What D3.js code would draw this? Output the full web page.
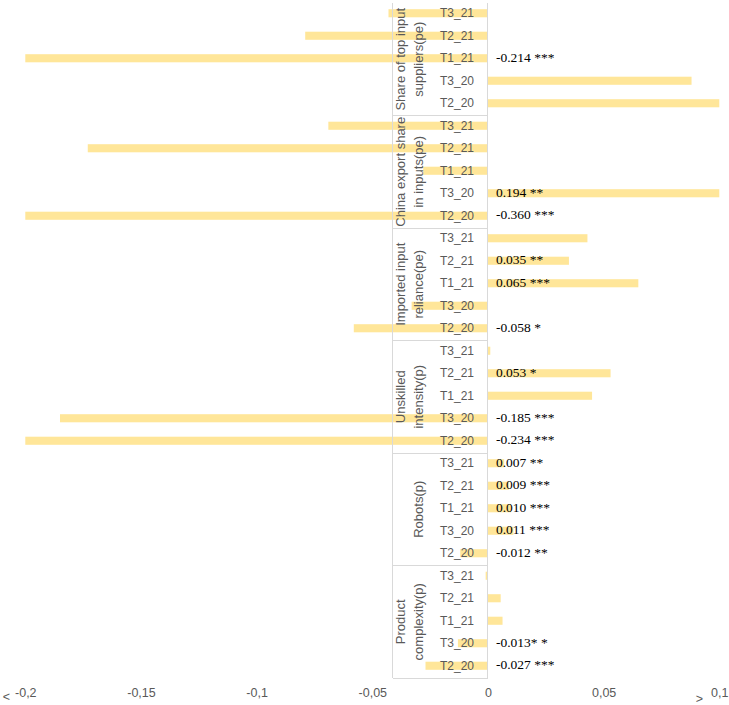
<!DOCTYPE html>
<html>
<head>
<meta charset="utf-8">
<script src="https://cdn.jsdelivr.net/npm/d3@7"></script>
<style>
html,body{margin:0;padding:0;background:#fff;}
svg{display:block;}
</style>
</head>
<body>
<svg id="chart" width="729" height="705"></svg>
<script>
// ---- data ----
const rows = ["T3_21", "T2_21", "T1_21", "T3_20", "T2_20"];
const groupNames = [
  ["Share of top input", "suppliers(pe)"],
  ["China export share", "in inputs(pe)"],
  ["Imported input", "reliance(pe)"],
  ["Unskilled", "intensity(p)"],
  ["Robots(p)"],
  ["Product", "complexity(p)"]
];
const shareTopValues    = [-0.043, -0.079, -0.214, 0.088, 0.105];
const chinaExportValues = [-0.069, -0.173, -0.028, 0.194, -0.360];
const importedValues    = [0.043, 0.035, 0.065, -0.033, -0.058];
const unskilledValues   = [0.001, 0.053, 0.045, -0.185, -0.234];
const robotsValues      = [0.007, 0.009, 0.010, 0.011, -0.012];
const complexityValues  = [-0.001, 0.0055, 0.0063, -0.013, -0.027];

const shareTopLabels    = ["", "", "-0.214 ***", "", ""];
const chinaExportLabels = ["", "", "", "0.194 **", "-0.360 ***"];
const importedLabels    = ["", "0.035 **", "0.065 ***", "", "-0.058 *"];
const unskilledLabels   = ["", "0.053 *", "", "-0.185 ***", "-0.234 ***"];
const robotsLabels      = ["0.007 **", "0.009 ***", "0.010 ***", "0.011 ***", "-0.012 **"];
const complexityLabels  = ["", "", "", "-0.013* *", "-0.027 ***"];

const tickValues = [-0.2, -0.15, -0.1, -0.05, 0, 0.05, 0.1];
const tickLabels = ["-0,2", "-0,15", "-0,1", "-0,05", "0", "0,05", "0,1"];

const allValues = [shareTopValues, chinaExportValues, importedValues, unskilledValues, robotsValues, complexityValues];
const allLabels = [shareTopLabels, chinaExportLabels, importedLabels, unskilledLabels, robotsLabels, complexityLabels];

// ---- build table ----
const data = [];
groupNames.forEach((g, gi) => {
  rows.forEach((r, ri) => {
    data.push({group: gi, row: r, key: gi + "|" + r, value: allValues[gi][ri], label: allLabels[gi][ri]});
  });
});

// ---- layout ----
const sansFont = "'Liberation Sans', Arial, sans-serif";
const svg = d3.select("#chart");
const yTop = 3, yBottom = 678;
const leftLine = 392.7;

const x = d3.scaleLinear().domain([-0.2, 0.1]).range([25.3, 719.3]).clamp(true);
const yRow = d3.scaleBand().domain(data.map(d => d.key)).range([yTop, yBottom]).paddingInner(0.64).paddingOuter(0.32);
const yStep = yRow.step();
const groupH = yStep * rows.length;
const x0 = x(0);

// bars
svg.append("g").selectAll("rect").data(data).join("rect")
  .attr("x", d => Math.min(x(d.value), x0))
  .attr("width", d => Math.abs(x(d.value) - x0))
  .attr("y", d => yRow(d.key) - 1)
  .attr("height", yRow.bandwidth())
  .attr("fill", "#FFE699");

// category axis lines
const lineColor = "#d9d9d9";
const gl = svg.append("g").attr("stroke", lineColor).attr("stroke-width", 1).attr("shape-rendering", "crispEdges");
gl.append("line").attr("x1", leftLine).attr("x2", leftLine).attr("y1", yTop).attr("y2", yBottom);
gl.append("line").attr("x1", x0).attr("x2", x0).attr("y1", yTop).attr("y2", yBottom);
d3.range(1, groupNames.length + 1).forEach(i => {
  gl.append("line").attr("x1", leftLine).attr("x2", x0)
    .attr("y1", yTop + i * groupH).attr("y2", yTop + i * groupH);
});

// inner category labels
svg.append("g").selectAll("text").data(data).join("text")
  .attr("x", 457)
  .attr("y", d => yRow(d.key) + yRow.bandwidth() / 2 - 1)
  .attr("dy", "0.35em")
  .attr("text-anchor", "middle")
  .attr("font-family", sansFont)
  .attr("font-size", 12)
  .attr("fill", "#595959")
  .text(d => d.row);

// group labels (rotated)
groupNames.forEach((lines, gi) => {
  const cy = yTop + gi * groupH + groupH / 2;
  const xs = lines.length === 2 ? [400.5, 418] : [418];
  lines.forEach((ln, li) => {
    svg.append("text")
      .attr("transform", `translate(${xs[li]},${cy}) rotate(-90)`)
      .attr("text-anchor", "middle")
      .attr("dy", "0.35em")
      .attr("font-family", sansFont)
      .attr("font-size", 13)
      .attr("fill", "#595959")
      .text(ln);
  });
});

// data labels
svg.append("g").selectAll("text").data(data.filter(d => d.label)).join("text")
  .attr("x", x0 + 8)
  .attr("y", d => yRow(d.key) + yRow.bandwidth() / 2 - 2)
  .attr("dy", "0.35em")
  .attr("font-family", "'Liberation Serif', 'Times New Roman', serif")
  .attr("font-size", 13.5)
  .attr("fill", "#000")
  .text(d => d.label);

// value axis
const axis = d3.axisBottom(x).tickValues(tickValues).tickSize(0).tickPadding(0)
  .tickFormat((d, i) => tickLabels[i]);
const ax = svg.append("g").attr("transform", "translate(0,688)").call(axis);
ax.select(".domain").remove();
ax.selectAll("text")
  .attr("font-family", sansFont)
  .attr("font-size", 12.5)
  .attr("fill", "#595959");
// clipping markers
svg.append("text").attr("x", x(-0.2) - 19).attr("y", 701)
  .attr("text-anchor", "middle").attr("font-family", sansFont).attr("font-size", 12.5).attr("fill", "#595959").text("<");
svg.append("text").attr("x", x(0.1) - 20).attr("y", 703)
  .attr("text-anchor", "middle").attr("font-family", sansFont).attr("font-size", 12.5).attr("fill", "#595959").text(">");
</script>
</body>
</html>
